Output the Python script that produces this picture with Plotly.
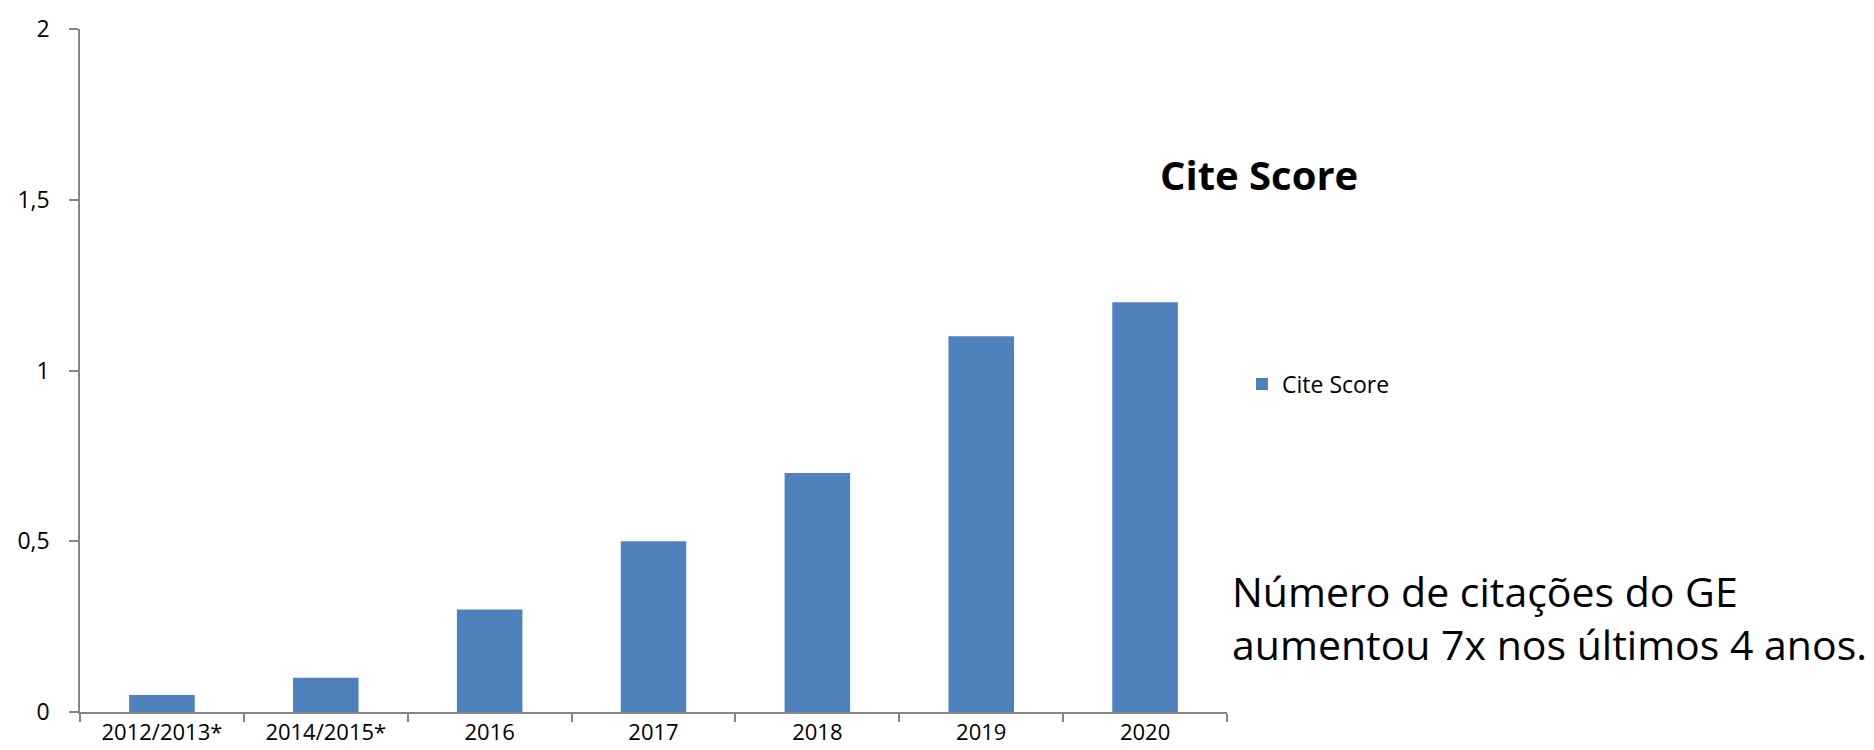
import plotly.graph_objects as go

categories = ["2012/2013*", "2014/2015*", "2016", "2017", "2018", "2019", "2020"]
values = [0.05, 0.1, 0.3, 0.5, 0.7, 1.1, 1.2]
series_name = "Cite Score"
title_text = "Cite Score"
note_text = "Número de citações do GE<br>aumentou 7x nos últimos 4 anos."

W, H = 1874, 750
L, R, T, B = 72, 655, 21, 46
pw, ph = W - L - R, H - T - B

def px(x):
    return (x - L) / pw

def py(y):
    return (H - B - y) / ph

font = "Open Sans"
axis_gray = "#868686"

fig = go.Figure()
fig.add_trace(go.Bar(x=categories, y=values, name=series_name,
                     marker=dict(color="#4F81BD", line=dict(width=0))))

fig.update_layout(
    width=W, height=H,
    margin=dict(l=L, r=R, t=T, b=B, autoexpand=False),
    paper_bgcolor="white", plot_bgcolor="white",
    separators=",.",
    bargap=0.6,
    font=dict(family=font, color="black", size=20),
    showlegend=True,
    legend=dict(x=px(1234), y=py(376), xanchor="left", yanchor="middle",
                font=dict(size=23, family=font), itemwidth=30,
                bgcolor="rgba(0,0,0,0)"),
    xaxis=dict(type="category", range=[-0.5, 6.5], showgrid=False,
               showline=True, linecolor=axis_gray, linewidth=1.5,
               ticks="outside", tickson="boundaries", ticklen=8,
               tickcolor=axis_gray, tickwidth=1.5, ticklabelstandoff=0,
               tickfont=dict(size=22, family=font), fixedrange=True),
    yaxis=dict(range=[0, 2], dtick=0.5, showgrid=False, zeroline=False,
               showline=True, linecolor=axis_gray, linewidth=1.5,
               ticks="outside", ticklen=9, tickcolor=axis_gray, tickwidth=1.5,
               ticklabelstandoff=15,
               tickfont=dict(size=23, family=font), tickformat=",.1~f"),
    annotations=[
        dict(text="<b>" + title_text + "</b>", x=px(1251), y=py(167),
             xref="paper", yref="paper", xanchor="center", yanchor="middle",
             showarrow=False, font=dict(size=40, family=font)),
        dict(text=note_text, x=px(1222), y=py(609), xref="paper", yref="paper",
             xanchor="left", yanchor="middle", align="left", showarrow=False,
             font=dict(size=41, family=font)),
    ],
)

fig.write_html("out.html")
